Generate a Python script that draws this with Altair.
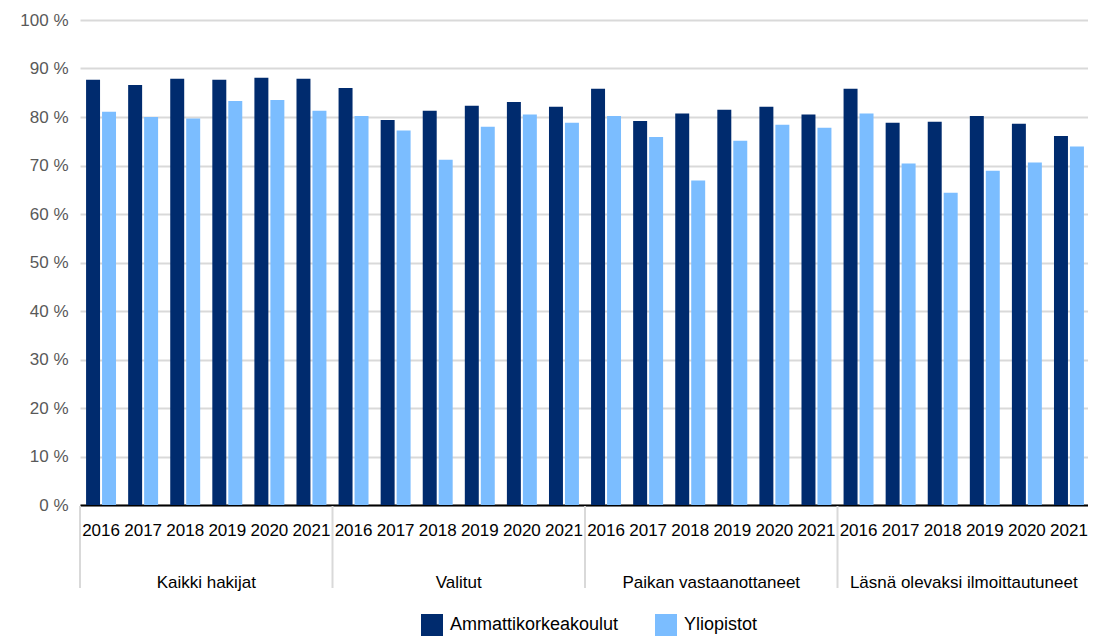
import altair as alt
import pandas as pd

groups = ["Kaikki hakijat", "Valitut", "Paikan vastaanottaneet", "Läsnä olevaksi ilmoittautuneet"]
years = ["2016", "2017", "2018", "2019", "2020", "2021"]
series = ["Ammattikorkeakoulut", "Yliopistot"]
amk = [87.7, 86.6, 87.9, 87.7, 88.1, 87.9,
       86.0, 79.4, 81.3, 82.3, 83.1, 82.1,
       85.8, 79.2, 80.7, 81.5, 82.1, 80.5,
       85.8, 78.8, 79.0, 80.2, 78.6, 76.1]
yo = [81.1, 80.0, 79.7, 83.3, 83.5, 81.3,
      80.2, 77.2, 71.2, 78.0, 80.5, 78.8,
      80.2, 75.9, 66.9, 75.1, 78.4, 77.8,
      80.7, 70.4, 64.4, 68.9, 70.6, 73.9]
colors = ["#002b6e", "#7bbdff"]

keys = [f"{g}|{y}" for g in groups for y in years]
rows = []
for i, k in enumerate(keys):
    rows.append({"key": k, "series": series[0], "value": amk[i]})
    rows.append({"key": k, "series": series[1], "value": yo[i]})
df = pd.DataFrame(rows)

sep_df = pd.DataFrame({"key": [f"{g}|{years[0]}" for g in groups]})
lab_df = pd.DataFrame({"key": [f"{g}|{years[2]}" for g in groups], "label": groups})

H = 485
W = 1008
RANGE_W = 1010
FONT = "Liberation Sans, Arial, sans-serif"

xscale = alt.Scale(domain=keys, paddingInner=0, paddingOuter=0, range=[0, RANGE_W])

bars = alt.Chart(df).mark_bar().encode(
    x=alt.X("key:N", sort=keys, scale=xscale,
            axis=alt.Axis(title=None, labelExpr="split(datum.label, '|')[1]",
                          labelAngle=0, ticks=False, labelFontSize=17,
                          labelColor="#000000", labelPadding=17,
                          domainColor="#000000", domainWidth=2, grid=False)),
    xOffset=alt.XOffset("series:N", sort=series,
                        scale=alt.Scale(domain=series, paddingInner=0.125, paddingOuter=0.38)),
    y=alt.Y("value:Q", scale=alt.Scale(domain=[0, 100]),
            axis=alt.Axis(title=None, values=list(range(0, 101, 10)),
                          labelExpr="datum.value + ' %'", labelFontSize=17,
                          labelColor="#595959", ticks=False, domain=False,
                          gridColor="#d9d9d9", gridWidth=2, labelPadding=12)),
    color=alt.Color("series:N", sort=series,
                    scale=alt.Scale(domain=series, range=colors),
                    legend=alt.Legend(title=None, orient="none", legendX=341, legendY=594,
                                      direction="horizontal", symbolType="square",
                                      symbolSize=484, symbolStrokeWidth=0,
                                      labelFontSize=18, labelColor="#000000",
                                      labelLimit=400,
                                      columnPadding=36, labelOffset=7)),
)

seps = alt.Chart(sep_df).mark_rule(color="#d9d9d9", strokeWidth=2).encode(
    x=alt.X("key:N", sort=keys, scale=xscale, bandPosition=0),
    y=alt.value(H + 1),
    y2=alt.value(H + 83),
)

labels = alt.Chart(lab_df).mark_text(fontSize=17, baseline="middle", color="#000000").encode(
    x=alt.X("key:N", sort=keys, scale=xscale, bandPosition=1),
    y=alt.value(H + 78),
    text="label:N",
)

chart = alt.layer(bars, seps, labels).properties(
    width=W, height=H,
    autosize=alt.AutoSizeParams(type="none"),
    padding={"left": 72, "top": 12, "right": 0, "bottom": 131},
).configure(font=FONT).configure_view(stroke=None)

chart.save("out.html", embed_options={"renderer": "svg", "actions": False})
